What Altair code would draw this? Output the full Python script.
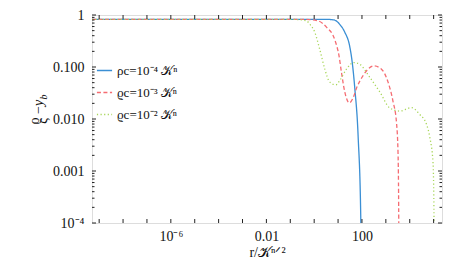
import altair as alt
import pandas as pd

series_names = ["ρc=10⁻⁴ 𝒦ⁿ", "ϱc=10⁻³ 𝒦ⁿ", "ϱc=10⁻² 𝒦ⁿ"]
series_colors = ["#3b8fd4", "#f56c72", "#a8d65a"]
series_dash = [[1, 0], [4, 2.5], [1.2, 2.4]]

blue_log_r = [-9.3, 0.45, 0.653, 0.862, 1.07, 1.28, 1.49, 1.60, 1.70, 1.84, 1.95, 1.97]
blue_log_v = [-0.084, -0.084, -0.086, -0.10, -0.18, -0.33, -0.61, -0.94, -1.41, -2.34, -3.91, -5.0]
red_log_r = [-9.3, -0.5, -0.184, 0.163, 0.515, 0.862, 1.042, 1.142, 1.28, 1.469, 1.628, 1.77,
             2.046, 2.255, 2.494, 2.816, 3.092, 3.301, 3.444, 3.51, 3.54, 3.545]
red_log_v = [-0.084, -0.084, -0.088, -0.112, -0.233, -0.476, -0.793, -1.104, -1.478, -1.688, -1.595, -1.409,
             -1.166, -1.041, -0.979, -1.041, -1.291, -1.664, -2.062, -2.659, -3.96, -5.0]
green_log_r = [-9.3, -1.0, -0.686, -0.322, -0.184, 0.025, 0.234, 0.444, 0.653, 0.904, 1.071, 1.351, 1.657,
               1.908, 2.326, 2.745, 3.163, 3.582, 4.071, 4.418, 4.699, 4.837, 4.975, 5.017, 5.02]
green_log_v = [-0.084, -0.084, -0.088, -0.112, -0.177, -0.332, -0.662, -1.041, -1.291, -1.343, -1.259, -1.041, -0.914,
               -0.948, -1.198, -1.478, -1.787, -1.847, -1.782, -1.912, -2.099, -2.347, -2.845, -3.96, -5.0]

x_ticks = [1e-9, 1e-8, 1e-7, 1e-6, 1e-5, 1e-4, 1e-3, 1e-2, 1e-1, 1, 10, 100, 1e3, 1e4, 1e5]
x_label_values = [1e-6, 1e-2, 100]
y_major = [1e-4, 1e-3, 1e-2, 1e-1, 1]
y_minor = [m * 10.0 ** k for k in (-4, -3, -2, -1) for m in (2, 3, 4, 5, 6, 7, 8, 9)]

W, H = 350, 208
X_DOMAIN = [10 ** -9.3, 10 ** 5.35]
Y_DOMAIN = [1e-4, 1]
FONT = "Liberation Serif"

rows = []
for name, lr, lv in zip(series_names, [blue_log_r, red_log_r, green_log_r], [blue_log_v, red_log_v, green_log_v]):
    for i, (a, b) in enumerate(zip(lr, lv)):
        rows.append({"s": name, "r": 10 ** a, "v": 10 ** b, "o": i})
df = pd.DataFrame(rows)

xs = alt.Scale(type="log", domain=X_DOMAIN, nice=False)
ys = alt.Scale(type="log", domain=Y_DOMAIN, nice=False)

xaxis = alt.Axis(
    values=x_label_values, ticks=False, domain=False, grid=False,
    labelExpr="datum.value < 1e-4 ? '10⁻⁶' : (datum.value < 1 ? '0.01' : '100')",
    labelFont=FONT, labelFontSize=14, labelColor="#111", labelPadding=6,
    title="r/𝒦ⁿᐟ²", titleFont=FONT, titleFontSize=14, titleFontWeight="normal",
    titleColor="#111", titlePadding=2)
yaxis = alt.Axis(
    values=y_major, ticks=False, domain=False, grid=False,
    labelExpr="datum.value < 5e-4 ? '10⁻⁴' : (datum.value < 5e-3 ? '0.001' : (datum.value < 5e-2 ? '0.010' : (datum.value < 0.5 ? '0.100' : '1')))",
    labelFont=FONT, labelFontSize=14, labelColor="#111", labelPadding=8, title="")

leg = dict(title=None, orient="none", legendX=4, legendY=47,
           symbolType="stroke", symbolSize=230, symbolStrokeWidth=1.3,
           labelFont=FONT, labelFontSize=13, labelColor="#111",
           rowPadding=6, labelOffset=4)

lines = alt.Chart(df).mark_line(strokeWidth=1.3, clip=True, interpolate="monotone").encode(
    x=alt.X("r:Q", scale=xs, axis=xaxis),
    y=alt.Y("v:Q", scale=ys, axis=yaxis),
    color=alt.Color("s:N", scale=alt.Scale(domain=series_names, range=series_colors),
                    legend=alt.Legend(**leg)),
    strokeDash=alt.StrokeDash("s:N", scale=alt.Scale(domain=series_names, range=series_dash),
                              legend=alt.Legend(**leg)),
    order="o:Q",
)

xt = pd.DataFrame({"r": x_ticks})
ymaj = pd.DataFrame({"v": y_major})
ymin = pd.DataFrame({"v": y_minor})
tick_style = dict(color="#222", strokeWidth=1)

bx = alt.Chart(xt).mark_rule(**tick_style).encode(
    x=alt.X("r:Q", scale=xs, axis=xaxis), y=alt.value(H), y2=alt.value(H - 4))
tx = alt.Chart(xt).mark_rule(**tick_style).encode(
    x=alt.X("r:Q", scale=xs, axis=xaxis), y=alt.value(0), y2=alt.value(4))
ly = alt.Chart(ymaj).mark_rule(**tick_style).encode(
    y=alt.Y("v:Q", scale=ys, axis=yaxis), x=alt.value(0), x2=alt.value(4))
ry = alt.Chart(ymaj).mark_rule(**tick_style).encode(
    y=alt.Y("v:Q", scale=ys, axis=yaxis), x=alt.value(W), x2=alt.value(W - 4))
lym = alt.Chart(ymin).mark_rule(**tick_style).encode(
    y=alt.Y("v:Q", scale=ys, axis=yaxis), x=alt.value(0), x2=alt.value(2.5))
rym = alt.Chart(ymin).mark_rule(**tick_style).encode(
    y=alt.Y("v:Q", scale=ys, axis=yaxis), x=alt.value(W), x2=alt.value(W - 2.5))

one = pd.DataFrame({"a": [0]})
def ttl(txt, x, y, size=14, style="normal"):
    return alt.Chart(one).mark_text(angle=270, font=FONT, fontSize=size, fontStyle=style,
                                    color="#111", align="center", baseline="middle").encode(
        x=alt.value(x), y=alt.value(y), text=alt.value(txt))

title_parts = [
    ttl("ϱ", -57, 106),
    ttl("ς", -49, 106),
    ttl("−", -53, 95),
    ttl("y", -53, 88, 14, "italic"),
    ttl("b", -48, 82, 10, "italic"),
]

chart = alt.layer(lines, bx, tx, ly, ry, lym, rym, *title_parts).properties(
    width=W, height=H,
    autosize=alt.AutoSizeParams(type="none"),
    padding={"left": 84, "top": 7, "right": 7, "bottom": 39},
).configure_view(stroke="#222", strokeWidth=1).configure(background="white")

chart.save("out.html", embed_options={"renderer": "svg", "actions": False})
